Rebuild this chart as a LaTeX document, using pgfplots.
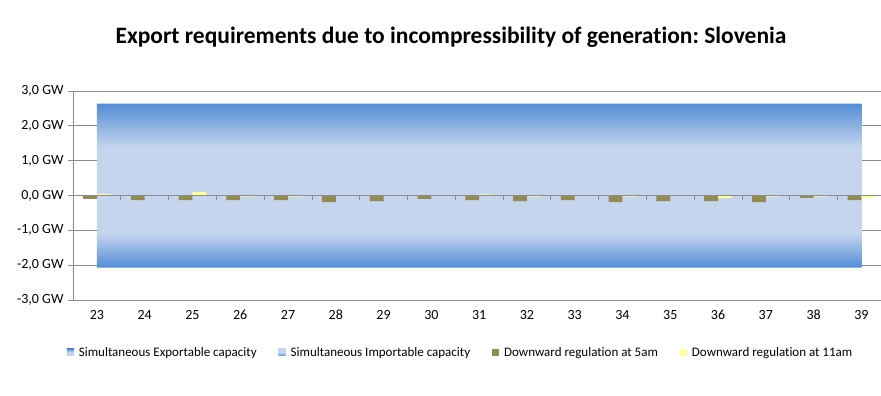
\documentclass[border=0pt]{standalone}
\usepackage{fontspec}
\setmainfont[Ligatures=NoCommon]{Carlito}
\usepackage{pgfplots}
\pgfplotsset{compat=1.18}
\definecolor{darkblue}{RGB}{83,141,213}
\definecolor{lightblue}{RGB}{197,213,238}
\definecolor{olivebar}{RGB}{148,138,84}
\definecolor{yellowbar}{RGB}{255,255,153}
\definecolor{gridgray}{RGB}{140,140,140}
\pgfdeclareverticalshading{exportshade}{100bp}{color(0bp)=(lightblue); color(25bp)=(lightblue); color(51bp)=(lightblue); color(75bp)=(darkblue); color(100bp)=(darkblue)}
\pgfdeclareverticalshading{importshade}{100bp}{color(0bp)=(darkblue); color(25bp)=(darkblue); color(49bp)=(lightblue); color(75bp)=(lightblue); color(100bp)=(lightblue)}
\begin{document}
\frenchspacing
\begin{tikzpicture}
\begin{axis}[scale only axis,
  width=807.5pt, height=209pt,
  xmin=22.5, xmax=39.4, ymin=-3, ymax=3,
  axis x line*=bottom, axis y line*=left,
  axis line style={draw=gridgray, line width=0.8pt, -},
  tick align=outside,
  ytick={-3,-2,-1,0,1,2,3},
  yticklabels={{-3,0 GW},{-2,0 GW},{-1,0 GW},{0,0 GW},{1,0 GW},{2,0 GW},{3,0 GW}},
  xtick={23,24,...,39},
  xticklabels={23,24,25,26,27,28,29,30,31,32,33,34,35,36,37,38,39},
  major tick length=5pt,
  xtick style={draw=none},
  ytick style={draw=gridgray, line width=0.8pt},
  ymajorgrids, grid style={draw=gridgray, line width=0.8pt},
  tick label style={font=\fontsize{14}{16}\selectfont, text=black},
  yticklabel style={xshift=-1pt},
  xticklabel style={yshift=-2pt, text height=9pt, text depth=0pt},
  legend columns=4,
  legend style={at={(0.48,-0.205)}, anchor=north, draw=none, fill=none,
    font=\fontsize{13}{15}\selectfont,
    /tikz/every even column/.append style={column sep=20pt}},
]
\addplot[draw=none, shading=exportshade,
  legend image code/.code={\shade[shading=exportshade] (0pt,-3.5pt) rectangle (7pt,3.5pt); \path (10pt,0pt);}]
  coordinates {(23,0) (23,2.64) (24,2.64) (25,2.64) (26,2.64) (27,2.64) (28,2.64) (29,2.64) (30,2.64) (31,2.64) (32,2.64) (33,2.64) (34,2.64) (35,2.64) (36,2.64) (37,2.64) (38,2.64) (39,2.64) (39,0)} -- cycle;
\addlegendentry{Simultaneous Exportable capacity}
\addplot[draw=none, shading=importshade,
  legend image code/.code={\shade[shading=importshade] (0pt,-3.5pt) rectangle (7pt,3.5pt); \path (10pt,0pt);}]
  coordinates {(23,0) (23,-2.07) (24,-2.07) (25,-2.07) (26,-2.07) (27,-2.07) (28,-2.07) (29,-2.07) (30,-2.07) (31,-2.07) (32,-2.07) (33,-2.07) (34,-2.07) (35,-2.07) (36,-2.07) (37,-2.07) (38,-2.07) (39,-2.07) (39,0)} -- cycle;
\addlegendentry{Simultaneous Importable capacity}
\addplot[ybar, bar width=0.29, bar shift=-0.145, fill=olivebar, draw=none,
  legend image code/.code={\fill[olivebar] (0pt,-3.5pt) rectangle (7pt,3.5pt); \path (10pt,0pt);}]
  coordinates {(23,-0.10) (24,-0.13) (25,-0.13) (26,-0.13) (27,-0.13) (28,-0.19) (29,-0.16) (30,-0.10) (31,-0.13) (32,-0.16) (33,-0.13) (34,-0.19) (35,-0.16) (36,-0.16) (37,-0.19) (38,-0.07) (39,-0.13)};
\addlegendentry{Downward regulation at 5am}
\addplot[ybar, bar width=0.29, bar shift=0.145, fill=yellowbar, draw=none,
  legend image code/.code={\fill[yellowbar] (0pt,-3.5pt) rectangle (7pt,3.5pt); \path (10pt,0pt);}]
  coordinates {(23,0.05) (24,0) (25,0.10) (26,-0.03) (27,-0.03) (28,0) (29,0) (30,0) (31,0.03) (32,-0.03) (33,0) (34,-0.03) (35,0) (36,-0.07) (37,-0.03) (38,-0.03) (39,-0.07)};
\addlegendentry{Downward regulation at 11am}
\draw[gridgray, line width=0.8pt] (axis cs:22.5,0) -- (axis cs:39.4,0);
\pgfplotsinvokeforeach{23.5,24.5,25.5,26.5,27.5,28.5,29.5,30.5,31.5,32.5,33.5,34.5,35.5,36.5,37.5,38.5}{
  \draw[gridgray, line width=0.8pt] (axis cs:#1,0) -- ++(0pt,-5pt);
}
\end{axis}
\node[font=\bfseries\fontsize{23.5}{28}\selectfont] at (378pt,263pt) {Export requirements due to incompressibility of generation: Slovenia};
\path (-73pt,-96pt) rectangle (808pt,300pt);
\end{tikzpicture}
\end{document}
